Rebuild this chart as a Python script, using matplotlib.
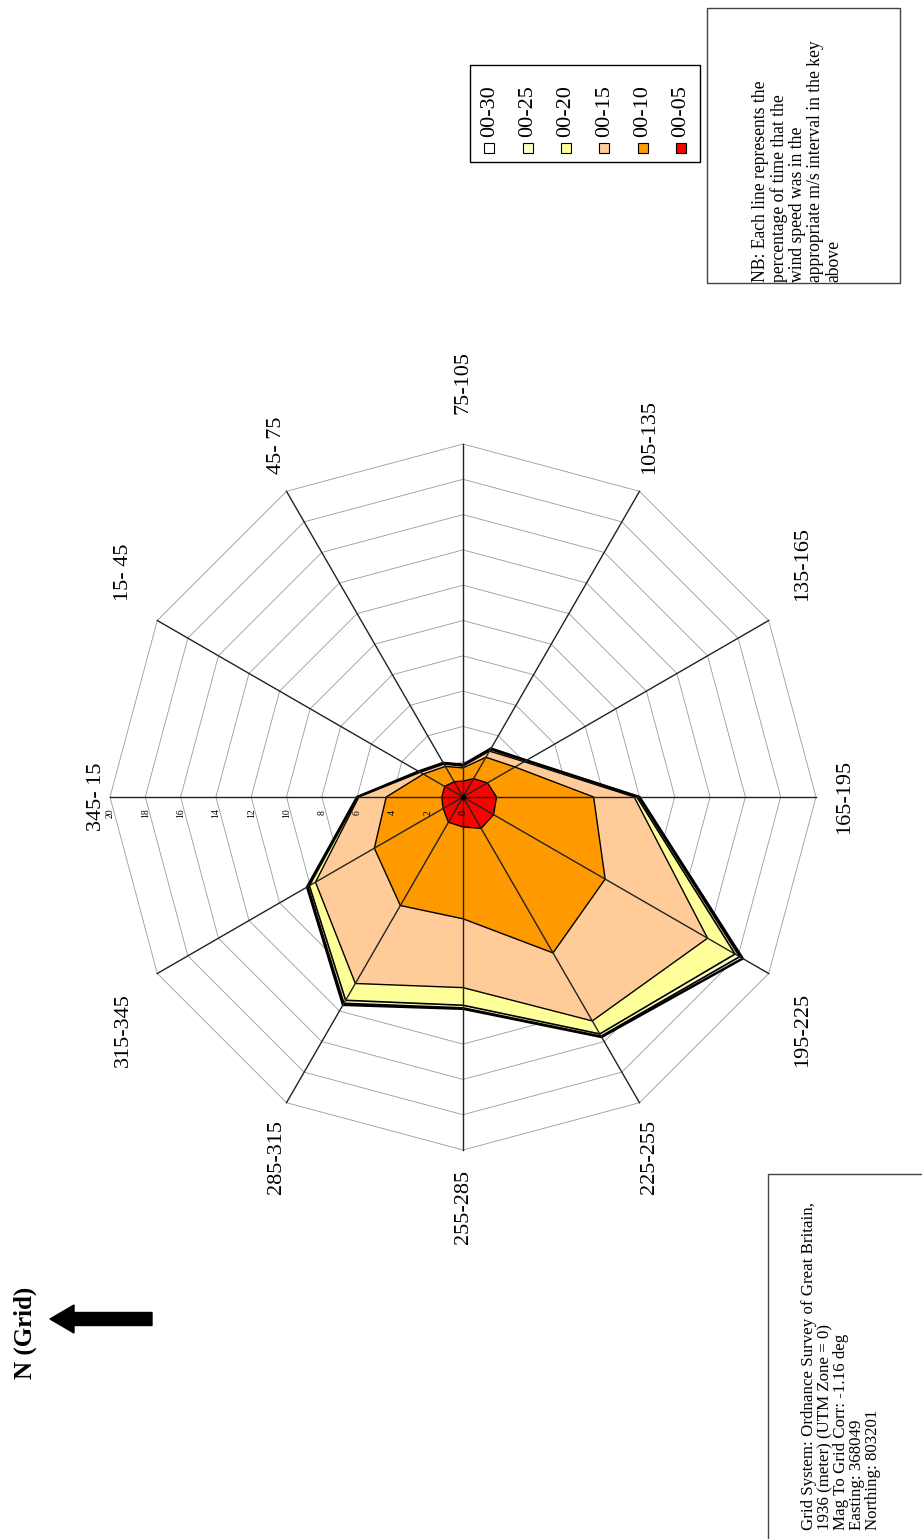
import matplotlib.pyplot as plt
import matplotlib.patches as mpatches
import numpy as np

# wind rose, page turned 90 deg (north points left)
sectors = ['345- 15', '15- 45', '45- 75', '75-105', '105-135', '135-165',
           '165-195', '195-225', '225-255', '255-285', '285-315', '315-345']
ticks = [0, 2, 4, 6, 8, 10, 12, 14, 16, 18, 20]

# cumulative % of time per speed band (m/s)
s00_05 = [1.2, 1.2, 1.0, 0.9, 1.2, 1.6, 1.9, 2.0, 2.05, 1.7, 1.65, 1.3]
s00_10 = [4.35, 2.6, 2.0, 1.65, 2.6, 3.4, 7.4, 9.3, 10.2, 6.9, 7.1, 5.8]
s00_15 = [5.9, 2.8, 2.15, 1.75, 3.0, 4.0, 9.7, 16.0, 14.65, 10.8, 12.2, 9.65]
s00_20 = [5.95, 2.85, 2.2, 1.8, 3.1, 4.1, 9.85, 17.8, 15.5, 11.8, 13.3, 10.05]
s00_25 = [5.97, 2.87, 2.22, 1.82, 3.15, 4.13, 9.95, 18.1, 15.65, 11.95, 13.5, 10.15]
s00_30 = [6.0, 2.9, 2.23, 1.83, 3.17, 4.15, 10.0, 18.3, 15.7, 12.0, 13.6, 10.2]

series = [('00-30', s00_30, 'white', 1.8),
          ('00-25', s00_25, '#FFFFCC', 1.3),
          ('00-20', s00_20, '#FFFF99', 1.2),
          ('00-15', s00_15, '#FFCC99', 1.0),
          ('00-10', s00_10, '#FF9900', 1.0),
          ('00-05', s00_05, '#FF0000', 1.0)]

plt.rcParams['font.family'] = ['Liberation Serif', 'DejaVu Serif']

W, H = 922, 1539
cx, cy, scale = 463, 797, 17.65   # centre in px, px per unit

fig = plt.figure(figsize=(W / 100, H / 100), dpi=100)
ax = fig.add_axes([0, 0, 1, 1])
ax.set_xlim(-cx / scale, (W - cx) / scale)
ax.set_ylim(-(H - cy) / scale, cy / scale)
ax.axis('off')

theta = np.deg2rad(180 - 30 * np.arange(len(sectors)))
cos, sin = np.cos(theta), np.sin(theta)
rmax = ticks[-1]

# polygon grid
for t in ticks[1:]:
    ax.plot(np.append(t * cos, t * cos[0]), np.append(t * sin, t * sin[0]),
            color='#9a9a9a', lw=0.6, zorder=1)

for name, vals, col, lw in series:
    v = np.array(vals)
    ax.fill(v * cos, v * sin, facecolor=col, edgecolor='black', lw=lw, zorder=2)

# spokes
for c, s in zip(cos, sin):
    ax.plot([0, rmax * c], [0, rmax * s], color='#222222', lw=1.0, zorder=3)
ax.plot(0, 0, 'o', color='black', ms=3, zorder=4)

for t in ticks:
    ax.text(-t, -0.9, str(t), rotation=90, fontsize=7, ha='center', va='center', zorder=5)

for lab, c, s in zip(sectors, cos, sin):
    ha = 'left' if c > 0.9 else ('right' if c < -0.9 else 'center')
    va = 'bottom' if s > 0.1 else ('top' if s < -0.1 else 'center')
    if c < -0.9:
        r = rmax + 0.2
    elif abs(s) > 0.9 and s > 0:
        r = rmax + 1.7
    elif abs(s) > 0.4 and abs(c) > 0.8:
        r = rmax + 2.2
    else:
        r = rmax + 1.1
    ax.text(r * c, r * s, lab, rotation=90, fontsize=16, ha=ha, va=va)

# page furniture in pixel coordinates
ov = fig.add_axes([0, 0, 1, 1], facecolor='none')
ov.set_xlim(0, W)
ov.set_ylim(H, 0)
ov.axis('off')

# legend
lx0, ly0, lx1, ly1 = 470, 65, 700, 162
ov.add_patch(mpatches.Rectangle((lx0, ly0), lx1 - lx0, ly1 - ly0,
                                fill=False, edgecolor='black', lw=1))
step = (lx1 - lx0) / len(series)
for i, (name, vals, col, lw) in enumerate(series):
    x = lx0 + step * (i + 0.5)
    ov.add_patch(mpatches.Rectangle((x - 5, 143), 10, 10, facecolor=col,
                                    edgecolor='black', lw=0.8))
    ov.text(x, 137, name, rotation=90, fontsize=16, ha='center', va='bottom')

# note box
ov.add_patch(mpatches.Rectangle((707, 8), 193, 275, fill=False, edgecolor='#444444', lw=1))
ov.text(752, 282, 'NB: Each line represents the\npercentage of time that the\nwind speed was in the\n'
        'appropriate m/s interval in the key\nabove',
        rotation=90, fontsize=12.7, ha='left', va='bottom', linespacing=1.08)

# grid system box
ov.add_patch(mpatches.Rectangle((768, 1174), 200, 400, fill=False, edgecolor='#444444', lw=1))
ov.text(801, 1530, 'Grid System: Ordnance Survey of Great Britain,\n1936 (meter) (UTM Zone = 0)\n'
        'Mag To Grid Corr: -1.16 deg\nEasting: 368049\nNorthing: 803201',
        rotation=90, fontsize=12.2, ha='left', va='bottom', linespacing=1.0)

# north arrow
ov.add_patch(mpatches.FancyArrow(152, 1319, -102, 0, width=13, head_width=28,
                                 head_length=24, length_includes_head=True, color='black'))
ov.text(25, 1333, 'N (Grid)', rotation=90, fontsize=18, fontweight='bold',
        ha='center', va='center')

fig.savefig('out.png', dpi=100)
